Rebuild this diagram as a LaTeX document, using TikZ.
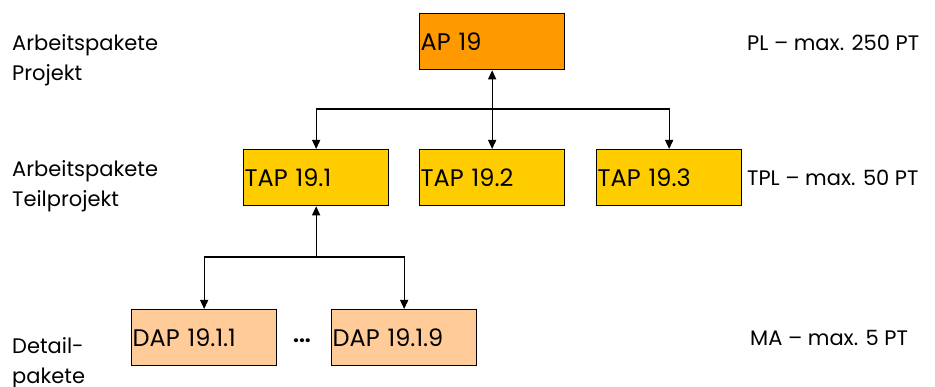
\documentclass[tikz,border=0pt]{standalone}
\usepackage{fontspec}
\setmainfont{Poppins}
\usetikzlibrary{arrows.meta}
\definecolor{apc}{HTML}{FF9900}
\definecolor{tapc}{HTML}{FFCC00}
\definecolor{dapc}{HTML}{FFCC99}
\tikzset{
  pkg/.style={draw=black, line width=1.3pt, minimum height=56pt, text width=143pt, inner xsep=1pt, inner ysep=0pt, align=left, anchor=north west, font=\fontsize{24}{28}\selectfont},
  lbl/.style={anchor=west, inner sep=0pt, align=left, font=\fontsize{21}{30}\selectfont},
  con/.style={line width=1.3pt, -{Triangle[length=9pt,width=8pt]}},
}
\begin{document}
\begin{tikzpicture}[x=1pt,y=-1pt]
\useasboundingbox (0,0) rectangle (935,387);
\node[pkg, fill=apc] (ap) at (419,13) {AP 19};
\node[pkg, fill=tapc] (tap1) at (243,149) {TAP 19.1};
\node[pkg, fill=tapc] (tap2) at (419,149) {TAP 19.2};
\node[pkg, fill=tapc] (tap3) at (596,149) {TAP 19.3};
\node[pkg, fill=dapc] (dap1) at (131,309) {DAP 19.1.1};
\node[pkg, fill=dapc] (dap9) at (331,309) {DAP 19.1.9};
\node[lbl, anchor=center, font=\bfseries\fontsize{21}{30}\selectfont] (dots) at (302,341) {...};
\coordinate (bus1) at (491,109);
\coordinate (bus2) at (315,257);
\draw[con, {Triangle[length=9pt,width=8pt]}-{Triangle[length=9pt,width=8pt]}] (ap.south) -- (tap2.north);
\draw[con] (bus1) -| (tap1.north);
\draw[con] (bus1) -| (tap3.north);
\draw[con] (tap1.south |- bus2) -- (tap1.south);
\draw[con] (tap1.south |- bus2) -| (dap1.north);
\draw[con] (tap1.south |- bus2) -| (dap9.north);
\node[lbl] (l1) at (12,60) {Arbeitspakete\\Projekt};
\node[lbl] (l2) at (12,186) {Arbeitspakete\\Teilprojekt};
\node[lbl] (l3) at (12,363) {Detail-\\pakete};
\node[lbl] (r1) at (747,43) {PL – max. 250 PT};
\node[lbl] (r2) at (747,178) {TPL – max. 50 PT};
\node[lbl] (r3) at (750,338) {MA – max. 5 PT};
\end{tikzpicture}
\end{document}
